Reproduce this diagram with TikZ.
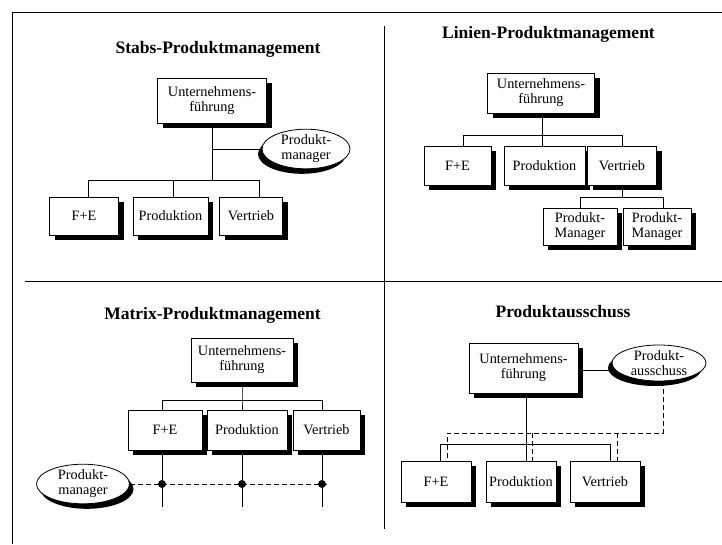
\documentclass[tikz,border=0pt]{standalone}
\usepackage{fontspec}
\setmainfont{Liberation Serif}
\usetikzlibrary{shadows,shapes.geometric}
\begin{document}
\begin{tikzpicture}[x=1pt,y=-1pt,
  txt/.style={font=\fontsize{14.3}{15}\selectfont},
  unit/.style={draw, fill=white, line width=0.8pt, inner sep=0pt, align=center, txt,
    general shadow={fill=black, shadow xshift=5pt, shadow yshift=-5pt}},
  staff/.style={ellipse, draw, fill=white, line width=0.8pt, inner sep=0pt, align=center, txt},
  shadowleft/.style={general shadow={fill=black, shadow xshift=-4pt, shadow yshift=-5pt}},
  shadowright/.style={general shadow={fill=black, shadow xshift=4pt, shadow yshift=-5pt}},
  heading/.style={font=\fontsize{17.5}{19}\selectfont\bfseries, anchor=base, inner sep=0pt},
  link/.style={line width=0.7pt},
  dashlink/.style={line width=0.7pt, dash pattern=on 5pt off 3pt},
  frame/.style={line width=0.9pt},
  dot/.style={fill=black}]
\useasboundingbox (0,0) rectangle (722,544);
\fill[white] (0,0) rectangle (722,544);

% outer frame and quadrant dividers
\draw[frame] (722,12) -- (12,12) -- (12,544);
\draw[frame] (384,26) -- (384,529);
\draw[frame] (25,281) -- (722,281);

% ---------- Stabs-Produktmanagement ----------
\node[heading] (t1) at (218,53) {Stabs-Produktmanagement};
\node[unit, minimum width=109pt, minimum height=45pt] (u1) at (212,100.5) {Unternehmens-\\führung};
\node[staff, shadowleft, minimum width=88pt, minimum height=34pt] (pm1) at (306,149) {Produkt-\\manager};
\node[unit, minimum width=69pt, minimum height=38pt] (f1) at (84,216) {F+E};
\node[unit, minimum width=75pt, minimum height=38pt] (p1) at (170.5,216) {Produktion};
\node[unit, minimum width=63pt, minimum height=38pt] (v1) at (251,216) {Vertrieb};
\coordinate (b1l) at (88,180);
\coordinate (b1m) at (173,180);
\coordinate (b1r) at (259,180);
\draw[link] (u1.south) -- (u1.south |- b1l);
\draw[link] (u1.south |- pm1.west) -- (pm1.west);
\draw[link] (b1l |- f1.north) -- (b1l) -- (b1r) -- (b1r |- v1.north);
\draw[link] (b1m) -- (b1m |- p1.north);

% ---------- Linien-Produktmanagement ----------
\node[heading] (t2) at (548.5,38) {Linien-Produktmanagement};
\node[unit, minimum width=107pt, minimum height=40pt] (u2) at (541,93) {Unternehmens-\\führung};
\node[unit, minimum width=67pt, minimum height=39pt] (f2) at (457.5,165.5) {F+E};
\node[unit, minimum width=81pt, minimum height=39pt] (p2) at (544.5,165.5) {Produktion};
\node[unit, minimum width=69pt, minimum height=39pt] (v2) at (622,165.5) {Vertrieb};
\node[unit, minimum width=74pt, minimum height=37pt] (m1) at (580,226.5) {Produkt-\\Manager};
\node[unit, minimum width=68pt, minimum height=37pt] (m2) at (657,226.5) {Produkt-\\Manager};
\coordinate (b2l) at (463,135);
\coordinate (b2m) at (542,135);
\coordinate (b2r) at (622,135);
\coordinate (c2l) at (580,197);
\coordinate (c2r) at (663,197);
\draw[link] (u2.south -| b2m) -- (b2m);
\draw[link] (b2l |- f2.north) -- (b2l) -- (b2r) -- (b2r |- v2.north);
\draw[link] (b2m) -- (b2m |- p2.north);
\draw[link] (v2.south) -- (v2.south |- c2l);
\draw[link] (c2l |- m1.north) -- (c2l) -- (c2r) -- (c2r |- m2.north);

% ---------- Matrix-Produktmanagement ----------
\node[heading] (t3) at (212.5,319) {Matrix-Produktmanagement};
\node[unit, minimum width=102pt, minimum height=44pt] (u3) at (242,360) {Unternehmens-\\führung};
\node[unit, minimum width=74pt, minimum height=40pt] (f3) at (165,430) {F+E};
\node[unit, minimum width=80pt, minimum height=40pt] (p3) at (247,430) {Produktion};
\node[unit, minimum width=67pt, minimum height=40pt] (v3) at (326.5,430) {Vertrieb};
\node[staff, shadowright, minimum width=93pt, minimum height=34pt] (pm3) at (83,484) {Produkt-\\manager};
\coordinate (b3l) at (162,400);
\coordinate (b3m) at (242,400);
\coordinate (b3r) at (322,400);
\coordinate (e3l) at (162,507);
\coordinate (e3m) at (242,507);
\coordinate (e3r) at (322,507);
\coordinate (e3d) at (328,484);
\draw[link] (u3.south) -- (b3m) -- (b3m |- p3.north);
\draw[link] (b3l |- f3.north) -- (b3l) -- (b3r) -- (b3r |- v3.north);
\draw[link] (e3l |- f3.south) -- (e3l);
\draw[link] (e3m |- p3.south) -- (e3m);
\draw[link] (e3r |- v3.south) -- (e3r);
\draw[dashlink] (pm3.east) -- (e3d);
\fill[dot] (e3l |- e3d) circle (4);
\fill[dot] (e3m |- e3d) circle (4);
\fill[dot] (e3r |- e3d) circle (4);

% ---------- Produktausschuss ----------
\node[heading] (t4) at (563,317) {Produktausschuss};
\node[unit, minimum width=109pt, minimum height=50pt] (u4) at (523.5,368) {Unternehmens-\\führung};
\node[staff, shadowleft, minimum width=94pt, minimum height=36pt] (pa) at (659,363) {Produkt-\\ausschuss};
\node[unit, minimum width=70pt, minimum height=41pt] (f4) at (436,481.5) {F+E};
\node[unit, minimum width=70pt, minimum height=41pt] (p4) at (521,481.5) {Produktion};
\node[unit, minimum width=70pt, minimum height=41pt] (v4) at (605,481.5) {Vertrieb};
\coordinate (s4l) at (440,444);
\coordinate (s4r) at (610,444);
\coordinate (d4l) at (447,433);
\coordinate (d4m) at (532,433);
\coordinate (d4v) at (617,433);
\coordinate (d4r) at (663,433);
\draw[link] (u4.east |- pa.190) -- (pa.190);
\draw[link] (u4.south -| 526,0) -- (p4.north -| 526,0);
\draw[link] (s4l |- f4.north) -- (s4l) -- (s4r) -- (s4r |- v4.north);
\draw[dashlink] (pa.south -| d4r) -- (d4r) -- (d4l) -- (d4l |- f4.north);
\draw[dashlink] (d4m) -- (d4m |- p4.north);
\draw[dashlink] (d4v) -- (d4v |- v4.north);
\end{tikzpicture}
\end{document}
